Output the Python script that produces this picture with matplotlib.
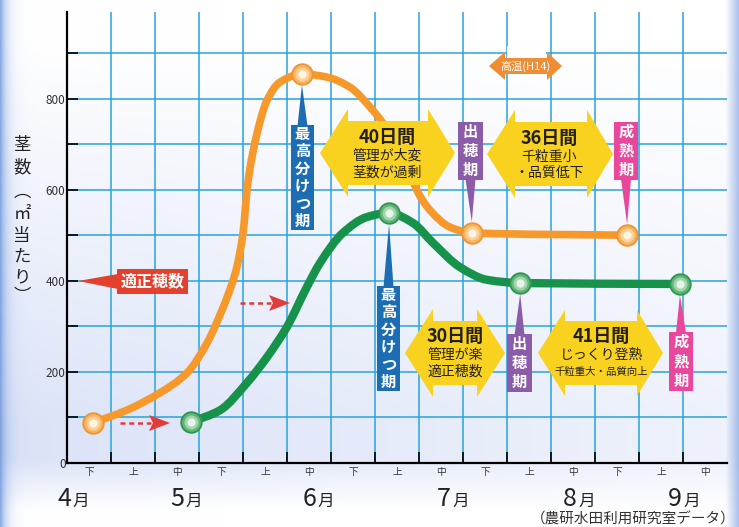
import numpy as np
import matplotlib
matplotlib.use('Agg')
import matplotlib.pyplot as plt
from matplotlib.patches import Polygon, Rectangle, PathPatch
from matplotlib.path import Path

plt.rcParams['font.family'] = ['Noto Sans CJK JP', 'DejaVu Sans']

# x は旬単位 (0 = 4月下旬の始まり), y は茎数(㎡当たり)
early_x = [0.59, 1.36, 2.11, 2.73, 3.18, 3.55, 3.64, 3.86, 4.0, 4.11, 4.32, 4.55, 4.84,
           5.34, 5.91, 6.43, 6.89, 7.18, 7.5, 7.75, 7.95, 8.25, 8.7, 9.2, 12.73]
early_y = [88, 116, 154, 198, 263, 342, 364, 430, 505, 615, 724, 797, 836,
           854, 847, 825, 781, 746, 700, 650, 599, 555, 518, 505, 500]
late_x = [2.82, 3.48, 4.09, 4.55, 5.0, 5.45, 5.75, 6.27, 6.82, 7.32, 7.86, 8.32, 8.93,
          9.55, 10.3, 13.93]
late_y = [90, 116, 176, 233, 299, 386, 439, 505, 540, 549, 527, 483, 430,
          402, 395, 393]

# 田植え・最高分けつ期・出穂期・成熟期
early_mark_x = [0.59, 5.34, 9.2, 12.73]
early_mark_y = [88, 854, 505, 500]
late_mark_x = [2.82, 7.32, 10.3, 13.93]
late_mark_y = [90, 549, 395, 393]

jun = ['下', '上', '中', '下', '上', '中', '下', '上', '中', '下', '上', '中', '下', '上', '中']
month_num = ['4', '5', '6', '7', '8', '9']
month_px = [71, 184, 316, 451, 577, 682]

W, H = 739, 527
L, B, AW, AH = 67, 463, 660, 451
XMAX, YMAX = 15, 990


def to_px(x, y):
    return L + x / XMAX * AW, B - y / YMAX * AH


def smooth_path(xs, ys):
    # 点を通るなめらかな曲線 (PCHIP の傾きで 3次ベジェ)
    x = np.asarray(xs, float)
    y = np.asarray(ys, float)
    h = np.diff(x)
    d = np.diff(y) / h
    m = np.zeros_like(x)
    m[0], m[-1] = d[0], d[-1]
    for k in range(1, len(x) - 1):
        if d[k - 1] * d[k] <= 0:
            m[k] = 0
        else:
            w1 = 2 * h[k] + h[k - 1]
            w2 = h[k] + 2 * h[k - 1]
            m[k] = (w1 + w2) / (w1 / d[k - 1] + w2 / d[k])
    verts = [(x[0], y[0])]
    codes = [Path.MOVETO]
    for k in range(len(x) - 1):
        verts += [(x[k] + h[k] / 3, y[k] + m[k] * h[k] / 3),
                  (x[k + 1] - h[k] / 3, y[k + 1] - m[k + 1] * h[k] / 3),
                  (x[k + 1], y[k + 1])]
        codes += [Path.CURVE4] * 3
    return Path(verts, codes)


fig = plt.figure(figsize=(W / 100, H / 100), dpi=100)

# 背景
bg = fig.add_axes([0, 0, 1, 1], zorder=0)
yy, xx = np.mgrid[0:H, 0:W]
f = np.clip((yy - 40) / 380, 0, 1) * np.clip((510 - yy) / 50, 0, 1) * (1 - 0.55 * xx / W)
lav = np.array([0.86, 0.89, 0.97])
img = 1 - f[..., None] * (1 - lav)
left = (np.exp(-xx / 6.0) * 0.8)[..., None]
img = img * (1 - left) + np.array([0.42, 0.58, 0.86]) * left
right = (np.clip((xx - 725) / 14, 0, 1) * 0.7)[..., None]
img = img * (1 - right) + np.array([0.5, 0.63, 0.87]) * right
bg.imshow(img, extent=[0, W, H, 0], aspect='auto')
bg.set_xlim(0, W)
bg.set_ylim(H, 0)
bg.axis('off')

# グラフ本体
ax = fig.add_axes([L / W, (H - B) / H, AW / W, AH / H], zorder=1)
ax.set_facecolor('none')
ax.set_xlim(0, XMAX)
ax.set_ylim(0, YMAX)
ax.set_axisbelow(True)
ax.set_xticks(np.arange(15) + 0.5)
ax.set_xticklabels(jun, fontsize=7, color='#333333')
ax.set_xticks(np.arange(1, 15), minor=True)
ax.set_yticks([0, 200, 400, 600, 800])
ax.set_yticklabels(['0', '200', '400', '600', '800'], fontsize=8.5, color='#333333')
ax.set_yticks([100, 300, 500, 700, 900], minor=True)
ax.tick_params(axis='x', which='major', length=0, pad=3)
ax.tick_params(axis='x', which='minor', direction='in', length=8, width=1.2, color='black')
ax.tick_params(axis='y', which='both', direction='in', length=8, width=1.2, color='black', pad=1)
gc = '#29a3df'
ax.yaxis.grid(True, which='both', color=gc, lw=1.1)
ax.xaxis.grid(True, which='minor', color=gc, lw=1.1)
ax.xaxis.grid(False, which='major')
for s in ['top', 'right']:
    ax.spines[s].set_visible(False)
for s in ['left', 'bottom']:
    ax.spines[s].set_linewidth(1.6)
    ax.spines[s].set_color('black')

ax.add_patch(PathPatch(smooth_path(early_x, early_y), fill=False, edgecolor='#f7982a', lw=5.5,
                       capstyle='round', joinstyle='round', zorder=3))
ax.add_patch(PathPatch(smooth_path(late_x, late_y), fill=False, edgecolor='#17924a', lw=6,
                       capstyle='round', joinstyle='round', zorder=3))

orange_layers = [(260, '#f0952f'), (180, '#f7b563'), (100, '#fbd39a'), (35, '#fff3e2')]
green_layers = [(260, '#2f9650'), (180, '#63b679'), (100, '#a3d6ad'), (35, '#e6f5e8')]
for s, c in orange_layers:
    ax.scatter(early_mark_x, early_mark_y, s=s, color=c, lw=0, zorder=4)
for s, c in green_layers:
    ax.scatter(late_mark_x, late_mark_y, s=s, color=c, lw=0, zorder=4)

# 注記
ov = fig.add_axes([0, 0, 1, 1], zorder=3)
ov.set_xlim(0, W)
ov.set_ylim(H, 0)
ov.axis('off')
ov.patch.set_alpha(0)

# 縦書きの軸ラベル
for ch, y in [('茎', 145), ('数', 167), ('︵', 192), ('㎡', 214), ('当', 236),
              ('た', 257), ('り', 277), ('︶', 296)]:
    ov.text(22, y, ch, ha='center', va='center', fontsize=12.5, color='#222222')

# 月
for d, xr in zip(month_num, month_px):
    ov.text(xr, 506, d, ha='right', va='baseline', fontsize=18, color='#222222')
    ov.text(xr + 1, 506, '月', ha='left', va='baseline', fontsize=12, color='#222222')
ov.text(736, 519, '（農研水田利用研究室データ）', ha='right', va='center', fontsize=10.5,
        color='#333333')


def tag(x0, x1, y0, y1, text, color, mx, my):
    cx, cy = to_px(mx, my)
    xc = (x0 + x1) / 2
    if cy < y0:
        base, tip = y0 + 1, (cx, cy + 11)
    else:
        base, tip = y1 - 1, (cx, cy - 11)
    ov.add_patch(Rectangle((x0, y0), x1 - x0, y1 - y0, color=color, lw=0, zorder=5))
    ov.add_patch(Polygon([(xc - 5, base), (xc + 5, base), tip], color=color, lw=0, zorder=5))
    pitch = (y1 - y0) / len(text)
    for i, ch in enumerate(text):
        ov.text(xc, y0 + pitch * (i + 0.5), ch, ha='center', va='center', color='white',
                fontsize=11, fontweight='bold', zorder=6)


blue, purple, pink = '#1c6db4', '#8b5ca8', '#e9479b'
tag(291, 314, 125, 230, '最高分けつ期', blue, early_mark_x[1], early_mark_y[1])
tag(377, 400, 286, 391, '最高分けつ期', blue, late_mark_x[1], late_mark_y[1])
tag(458, 483, 122, 180, '出穂期', purple, early_mark_x[2], early_mark_y[2])
tag(614, 638, 122, 180, '成熟期', pink, early_mark_x[3], early_mark_y[3])
tag(507, 532, 334, 392, '出穂期', purple, late_mark_x[2], late_mark_y[2])
tag(669, 693, 332, 391, '成熟期', pink, late_mark_x[3], late_mark_y[3])


def double_arrow(x0, s0, s1, x1, yc, hh, bh, color, z=5):
    pts = [(x0, yc), (s0, yc - hh), (s0, yc - bh), (s1, yc - bh), (s1, yc - hh), (x1, yc),
           (s1, yc + hh), (s1, yc + bh), (s0, yc + bh), (s0, yc + hh)]
    ov.add_patch(Polygon(pts, color=color, lw=0, zorder=z))


yellow = '#f8d21f'
double_arrow(320, 348, 428, 455, 153, 44, 32, yellow)
double_arrow(487, 515, 587, 613, 154, 44, 32, yellow)
double_arrow(405, 433, 477, 505, 353, 44, 32, yellow)
double_arrow(538, 565, 637, 663, 353, 43, 32, yellow)

tc = '#231f20'
for xc, y0, head, l1, l2, fs2 in [
        (387, 137, '40日間', '管理が大変', '茎数が過剰', 10),
        (549, 138, '36日間', '千粒重小', '・品質低下', 10),
        (455, 336, '30日間', '管理が楽', '適正穂数', 10),
        (601, 336, '41日間', 'じっくり登熟', '千粒重大・品質向上', 7.5)]:
    ov.text(xc, y0, head, ha='center', va='center', fontsize=13, fontweight='bold', color=tc, zorder=6)
    ov.text(xc, y0 + 19, l1, ha='center', va='center', fontsize=10, color=tc, zorder=6)
    ov.text(xc, y0 + 36, l2, ha='center', va='center', fontsize=fs2, color=tc, zorder=6)

# 高温(H14)
ov.add_patch(Rectangle((507, 46), 39, 12, color='white', lw=0, zorder=4))
double_arrow(489, 505, 547, 562, 66, 14, 8, '#ef8d34')
ov.text(525, 66, '高温(H14)', ha='center', va='center', fontsize=8, color='white', zorder=6)

# 適正穂数
red = '#e4402e'
ov.add_patch(Rectangle((117, 269), 71, 25, color=red, lw=0, zorder=5))
ov.add_patch(Polygon([(78, 281), (118, 274), (118, 289)], color=red, lw=0, zorder=5))
ov.text(152.5, 281.5, '適正穂数', ha='center', va='center', fontsize=11.5, fontweight='bold',
        color='white', zorder=6)

# 点線矢印
for xa, xb, y in [(120, 151, 423), (240, 271, 303)]:
    ov.plot([xa, xb], [y, y], color='#e23b3b', lw=1.8, ls=(0, (2, 1.5)), zorder=5)
    ov.add_patch(Polygon([(xb - 2, y - 8), (xb + 19, y), (xb - 2, y + 8), (xb + 2, y)],
                         color='#e23b3b', lw=0, zorder=5))

fig.savefig('out.png', dpi=100)
